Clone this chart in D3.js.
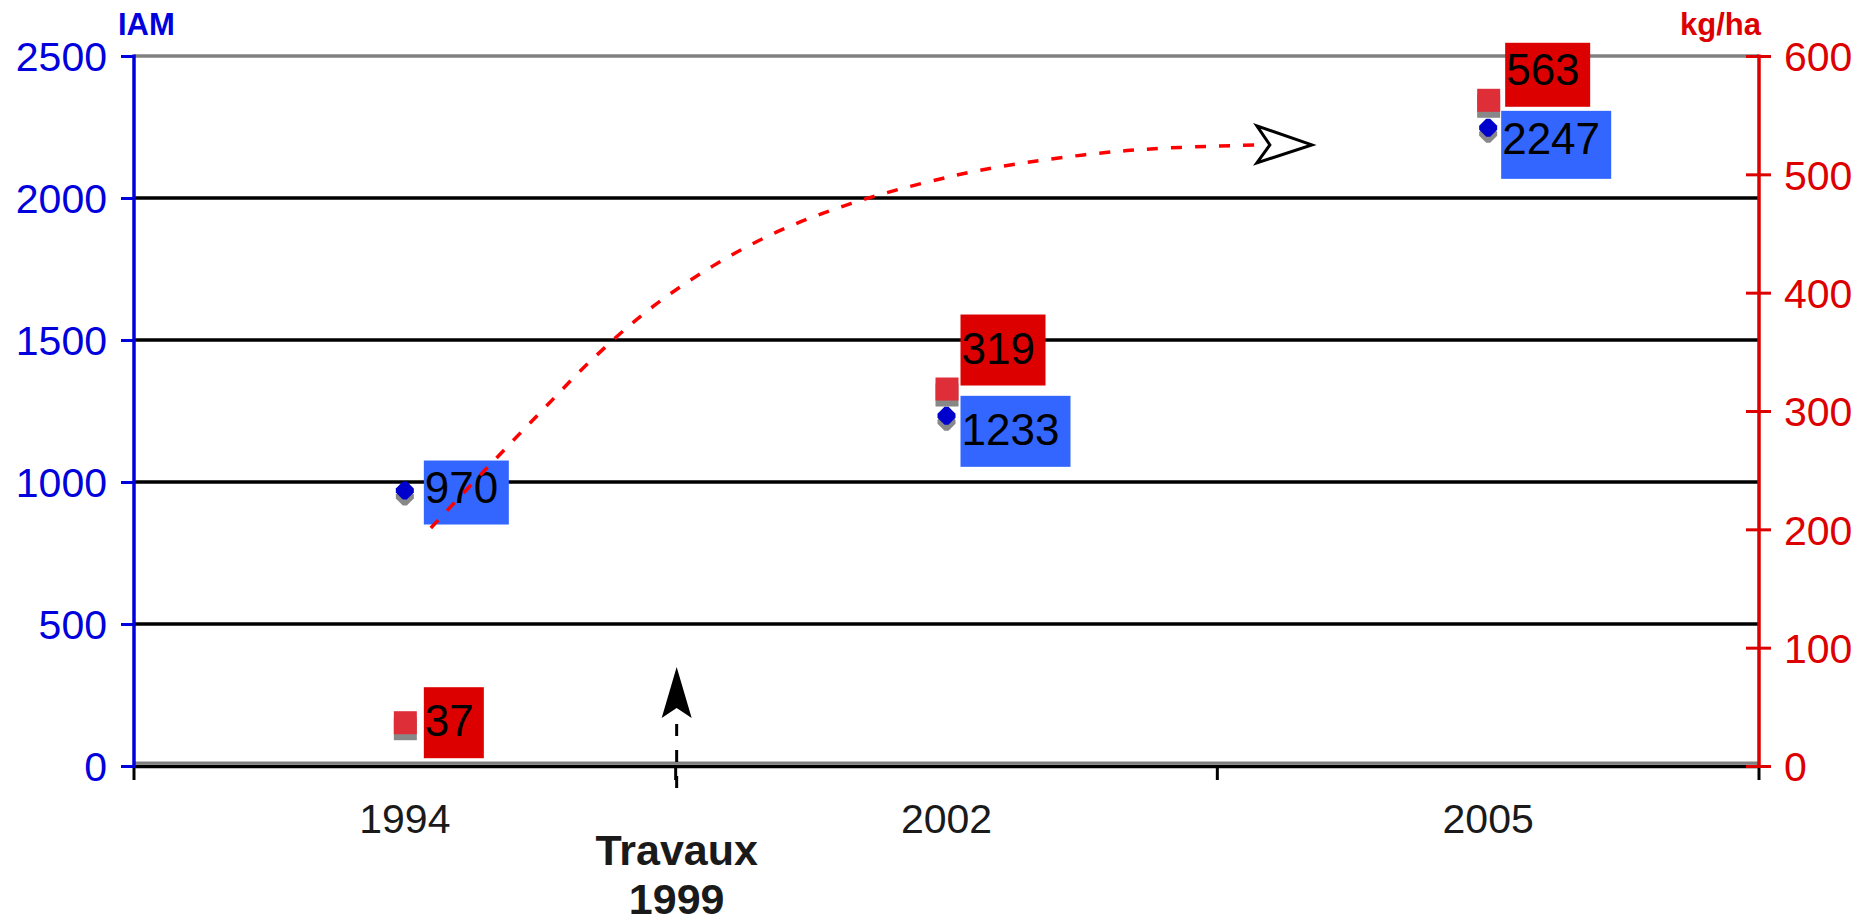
<!DOCTYPE html>
<html>
<head>
<meta charset="utf-8">
<script src="https://cdn.jsdelivr.net/npm/d3@7"></script>
<style>
  html, body { margin: 0; padding: 0; background: #fff; }
  svg { display: block; font-family: "Liberation Sans", Arial, sans-serif; }
</style>
</head>
<body>
<svg id="chart" width="1860" height="924"></svg>
<script>
// Survey years and measured values
const years = ["1994", "2002", "2005"];
const iamValues = [970, 1233, 2247];      // IAM index (left axis)
const kgValues = [37, 319, 563];          // kg/ha (right axis)
const iamTicks = [0, 500, 1000, 1500, 2000, 2500];
const kgTicks = [0, 100, 200, 300, 400, 500, 600];

// Hand-drawn trend annotation, in (year position, IAM) units
const trendPos = [0.048, 0.148, 0.247, 0.345, 0.45, 0.569, 0.692, 0.823, 0.958, 1.097, 1.333, 1.573];
const trendIam = [838, 1042, 1239, 1430, 1606, 1761, 1885, 1980, 2053, 2110, 2167, 2187];

// Works marker sits between the 1994 and 2002 slots
const worksPos = 0.5;
const worksLabel = ["Travaux", "1999"];

// Data-label placement relative to each point
const iamLabelLayout = [
  { dx: 19, dy: -30, h: 64, base: 42 },
  { dx: 14, dy: -20, h: 71, base: 49 },
  { dx: 13, dy: -17, h: 68, base: 43 }
];
const kgLabelLayout = [
  { dx: 19, dy: -35, h: 71, base: 49 },
  { dx: 14, dy: -74, h: 71, base: 49 },
  { dx: 17, dy: -57, h: 64, base: 42 }
];

const BLUE = "#0000DD", RED = "#DD0000";
const plotLeft = 134, plotRight = 1759, plotTop = 56, plotBottom = 766;
const fmt = d3.format("d");

const svg = d3.select("#chart");

const x = d3.scaleBand().domain(years).range([plotLeft, plotRight]).padding(0);
const xPos = d3.scaleLinear().domain([-0.5, years.length - 0.5]).range([plotLeft, plotRight]);
const yL = d3.scaleLinear().domain([0, 2500]).range([plotBottom, plotTop]);
const yR = d3.scaleLinear().domain([0, 600]).range([plotBottom, plotTop]);

// Horizontal gridlines
svg.append("g").selectAll("line")
  .data(iamTicks.filter(d => d > 0 && d < 2500))
  .join("line")
  .attr("x1", plotLeft).attr("x2", plotRight)
  .attr("y1", d => yL(d)).attr("y2", d => yL(d))
  .attr("stroke", "#000").attr("stroke-width", 3.5);
svg.append("line")
  .attr("x1", plotLeft).attr("x2", plotRight)
  .attr("y1", yL(2500)).attr("y2", yL(2500))
  .attr("stroke", "#808080").attr("stroke-width", 3.5);
svg.append("line")
  .attr("x1", plotLeft).attr("x2", plotRight)
  .attr("y1", yL(0) - 3).attr("y2", yL(0) - 3)
  .attr("stroke", "#808080").attr("stroke-width", 3);

// x axis: baseline, slot boundary ticks, year labels
svg.append("line")
  .attr("x1", plotLeft).attr("x2", plotRight)
  .attr("y1", yL(0) + 0.5).attr("y2", yL(0) + 0.5)
  .attr("stroke", "#000").attr("stroke-width", 3.5);
const bounds = years.map(d => x(d)).concat([x.range()[1]]);
svg.append("g").selectAll("line")
  .data(bounds).join("line")
  .attr("x1", d => d).attr("x2", d => d)
  .attr("y1", yL(0)).attr("y2", yL(0) + 14)
  .attr("stroke", "#000").attr("stroke-width", 3);

const xAxis = svg.append("g")
  .attr("transform", `translate(0,${yL(0)})`)
  .call(d3.axisBottom(x).tickSize(0).tickPadding(0));
xAxis.select(".domain").remove();
xAxis.selectAll("text")
  .attr("y", 67).attr("dy", 0)
  .attr("font-size", 41).attr("fill", "#1a1a1a")
  .attr("font-family", "Liberation Sans, Arial, sans-serif");

// Left axis (IAM)
const lAxis = svg.append("g")
  .attr("transform", `translate(${plotLeft},0)`)
  .call(d3.axisLeft(yL).tickValues(iamTicks).tickFormat(fmt).tickSize(13).tickPadding(0));
lAxis.select(".domain").remove();
lAxis.selectAll(".tick line").attr("stroke", BLUE).attr("stroke-width", 3);
lAxis.selectAll(".tick text")
  .attr("x", -27).attr("dy", "0.36em")
  .attr("fill", BLUE).attr("font-size", 41)
  .attr("font-family", "Liberation Sans, Arial, sans-serif");
svg.append("line")
  .attr("x1", plotLeft).attr("x2", plotLeft)
  .attr("y1", yL(2500) - 1.5).attr("y2", yL(0) + 2)
  .attr("stroke", BLUE).attr("stroke-width", 3.5);
svg.append("text")
  .attr("x", 118).attr("y", 35)
  .attr("fill", BLUE).attr("font-weight", "bold").attr("font-size", 31)
  .text("IAM");

// Right axis (kg/ha)
const rAxis = svg.append("g")
  .attr("transform", `translate(${plotRight},0)`)
  .call(d3.axisRight(yR).tickValues(kgTicks).tickFormat(fmt).tickSize(12).tickPadding(0));
rAxis.select(".domain").remove();
rAxis.selectAll(".tick line")
  .attr("x1", -13).attr("x2", 12)
  .attr("stroke", RED).attr("stroke-width", 3);
rAxis.selectAll(".tick text")
  .attr("x", 25).attr("dy", "0.36em")
  .attr("fill", RED).attr("font-size", 41)
  .attr("font-family", "Liberation Sans, Arial, sans-serif");
svg.append("line")
  .attr("x1", plotRight).attr("x2", plotRight)
  .attr("y1", yR(600) - 1.5).attr("y2", yR(0))
  .attr("stroke", RED).attr("stroke-width", 3.5);
svg.append("text")
  .attr("x", 1761).attr("y", 35).attr("text-anchor", "end")
  .attr("fill", RED).attr("font-weight", "bold").attr("font-size", 31)
  .text("kg/ha");

const cx = i => x(years[i]) + x.bandwidth() / 2;

// kg/ha points: square with drop shadow
const kgG = svg.append("g");
kgValues.forEach((v, i) => {
  kgG.append("rect")
    .attr("x", cx(i) - 11).attr("y", yR(v) - 11 + 6)
    .attr("width", 23).attr("height", 23).attr("fill", "#888");
  kgG.append("rect")
    .attr("x", cx(i) - 11).attr("y", yR(v) - 11)
    .attr("width", 23).attr("height", 23).attr("fill", "#DE2E38");
});

// IAM points: blunt diamond with drop shadow
const diamond = "M-2,-9L2,-9L9,-2L9,2L2,9L-2,9L-9,2L-9,-2Z";
const iamG = svg.append("g");
iamValues.forEach((v, i) => {
  iamG.append("path").attr("d", diamond)
    .attr("transform", `translate(${cx(i)},${yL(v) + 6})`).attr("fill", "#888");
  iamG.append("path").attr("d", diamond)
    .attr("transform", `translate(${cx(i)},${yL(v)})`).attr("fill", "#0000CC");
});

// Data labels
function drawLabels(values, scale, layout, fill) {
  const g = svg.append("g");
  values.forEach((v, i) => {
    const L = layout[i];
    const txt = String(v);
    const bx = cx(i) + L.dx, by = scale(v) + L.dy;
    const w = 25 * txt.length + 10;
    g.append("rect").attr("x", bx).attr("y", by)
      .attr("width", w).attr("height", L.h).attr("fill", fill);
    g.append("text").attr("x", bx + 1).attr("y", by + L.base)
      .attr("font-size", 44).attr("fill", "#000")
      .text(txt);
  });
}
drawLabels(iamValues, yL, iamLabelLayout, "#3366FF");
drawLabels(kgValues, yR, kgLabelLayout, "#DD0000");

// Trend annotation: dashed red curve ending in an open arrowhead
const trendPts = trendPos.map((p, i) => [xPos(p), yL(trendIam[i])]);
svg.append("path")
  .attr("d", d3.line().curve(d3.curveCatmullRom)(trendPts))
  .attr("fill", "none").attr("stroke", "#FF0000")
  .attr("stroke-width", 3.5).attr("stroke-dasharray", "11,13");
const [ex, ey] = trendPts[trendPts.length - 1];
svg.append("path")
  .attr("d", `M${ex + 55},${ey}L${ex},${ey - 19}L${ex + 13},${ey}L${ex},${ey + 18}Z`)
  .attr("fill", "#fff").attr("stroke", "#000").attr("stroke-width", 3)
  .attr("stroke-linejoin", "miter");

// Works marker: dashed vertical arrow with label below the axis
const wx = xPos(worksPos) + 1;
svg.append("line")
  .attr("x1", wx).attr("x2", wx)
  .attr("y1", yL(0) - 42).attr("y2", yL(0) + 27)
  .attr("stroke", "#000").attr("stroke-width", 3)
  .attr("stroke-dasharray", "12,14");
const ty = yL(0) - 99;
svg.append("path")
  .attr("d", `M${wx},${ty}L${wx + 15},${ty + 51}L${wx},${ty + 41}L${wx - 15},${ty + 51}Z`)
  .attr("fill", "#000");
svg.append("g").selectAll("text")
  .data(worksLabel).join("text")
  .attr("x", wx).attr("y", (d, i) => 865 + i * 49)
  .attr("text-anchor", "middle")
  .attr("font-size", 43).attr("font-weight", "bold").attr("fill", "#1a1a1a")
  .text(d => d);
</script>
</body>
</html>
